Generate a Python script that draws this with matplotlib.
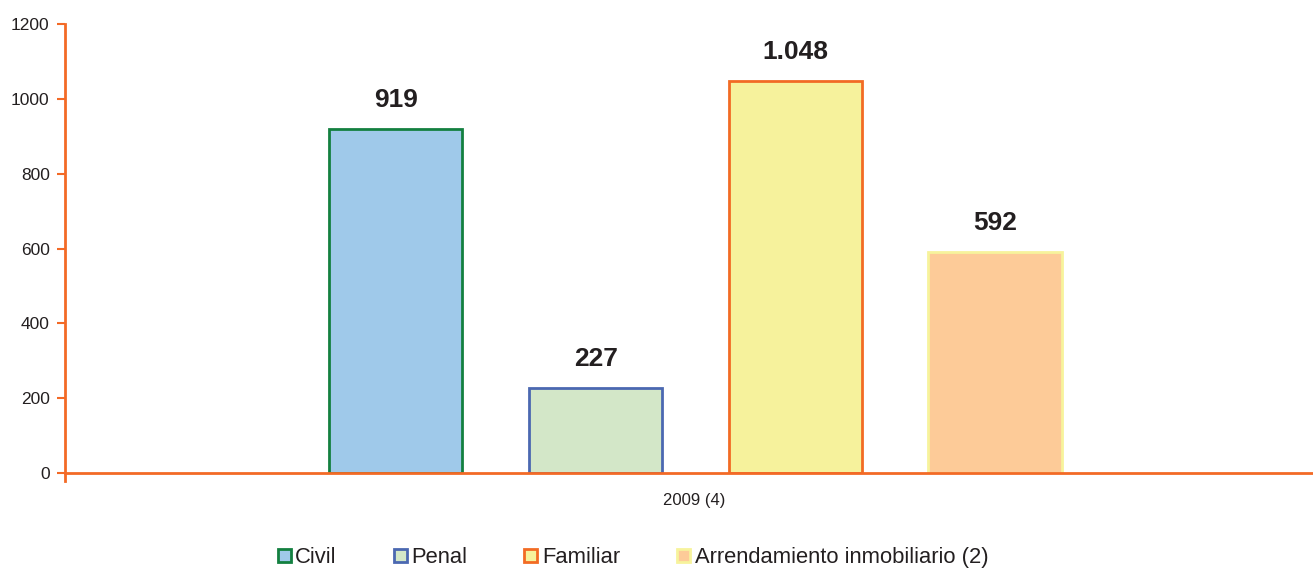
import matplotlib.pyplot as plt
import numpy as np

plt.rcParams['font.family'] = ['Liberation Sans', 'DejaVu Sans']

category = '2009 (4)'
series = ['Civil', 'Penal', 'Familiar', 'Arrendamiento inmobiliario (2)']
values = [919, 227, 1048, 592]
labels = ['919', '227', '1.048', '592']
yticks = [0, 200, 400, 600, 800, 1000, 1200]

fills = ['#9fc9ea', '#d3e7c8', '#f6f29c', '#fdcb98']
edges = ['#138040', '#4b68b1', '#f26b24', '#f7f39c']
orange = '#f36a26'

fig = plt.figure(figsize=(13.13, 5.72), dpi=100)
ax = fig.add_axes([0.0495, 0.173, 0.9505, 0.785])

step = 0.16
width = 0.1066
offsets = (np.arange(len(values)) - 1.5) * step

for i, (off, v) in enumerate(zip(offsets, values)):
    ax.bar(off, v, width=width, color=fills[i], edgecolor=edges[i],
           linewidth=2, label=series[i], zorder=2)
    ax.text(off, v + 45, labels[i], ha='center', va='bottom',
            fontsize=19, fontweight='bold', color='#231f20')

ax.set_xlim(-0.5 - 0.0052, 0.5 - 0.0052)
ax.set_ylim(0, 1200)
ax.set_yticks(yticks)
ax.set_xticks([])
ax.tick_params(axis='y', colors=orange, labelcolor='#231f20', labelsize=12.5,
               length=6, width=1.5, direction='out', pad=5)

for s in ['top', 'right']:
    ax.spines[s].set_visible(False)
ax.spines['left'].set_color(orange)
ax.spines['left'].set_linewidth(2)
ax.spines['left'].set_bounds(-20, 1200)
ax.spines['bottom'].set_color(orange)
ax.spines['bottom'].set_linewidth(2)
ax.spines['bottom'].set_zorder(3)

ax.text(0.5045, -0.062, category, transform=ax.transAxes, ha='center',
        va='center', fontsize=12, color='#231f20')

leg = fig.legend(loc='lower center', bbox_to_anchor=(0.482, -0.028), ncol=4,
                 frameon=False, fontsize=15.8, handlelength=0.6,
                 handleheight=0.6, handletextpad=0.2, columnspacing=2.6)
for t in leg.get_texts():
    t.set_color('#231f20')

fig.savefig('out.png', dpi=100)
